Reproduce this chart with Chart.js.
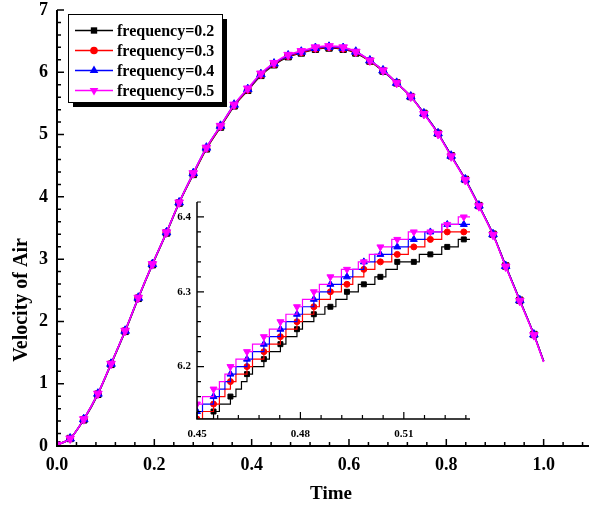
<!DOCTYPE html>
<html>
<head>
<meta charset="utf-8">
<script src="https://cdn.jsdelivr.net/npm/chart.js@4.4.1/dist/chart.umd.min.js"></script>
<style>
  html, body { margin: 0; padding: 0; background: #fff; overflow: hidden; }
  #wrap { position: relative; width: 589px; height: 512px; overflow: hidden; background: #fff; }
  #main { position: absolute; left: 0; top: 0; }
  #inset { position: absolute; left: 160px; top: 195px; }
</style>
</head>
<body>
<div id="wrap">
  <canvas id="main" width="600" height="512"></canvas>
  <canvas id="inset" width="320" height="250"></canvas>
</div>
<script>
const seriesNames = ['frequency=0.2', 'frequency=0.3', 'frequency=0.4', 'frequency=0.5'];
const seriesColors = ['#000000', '#ff0000', '#0000ff', '#ff00ff'];
const seriesMarkers = ['rect', 'circle', 'triangle', 'triangle'];
const seriesRotation = [0, 0, 0, 180];

const xTitle = 'Time';
const yTitle = 'Velocity of Air';

// main plot: time vs velocity
const mainTime = [0, 0.027, 0.055, 0.084, 0.111, 0.140, 0.167, 0.196, 0.225, 0.251, 0.280, 0.307,
  0.336, 0.364, 0.392, 0.419, 0.446, 0.475, 0.502, 0.531, 0.559, 0.588, 0.614, 0.643, 0.670,
  0.698, 0.727, 0.754, 0.783, 0.810, 0.839, 0.867, 0.896, 0.922, 0.951, 0.980, 1.0];
const mainF02 = [0.02, 0.12, 0.42, 0.83, 1.31, 1.84, 2.37, 2.91, 3.42, 3.90, 4.36, 4.77, 5.12, 5.46,
  5.71, 5.95, 6.12, 6.25, 6.31, 6.37, 6.39, 6.37, 6.31, 6.18, 6.02, 5.83, 5.61, 5.34, 5.02, 4.66,
  4.28, 3.86, 3.40, 2.89, 2.34, 1.79, 1.36];
const mainF03 = [0.02, 0.12, 0.43, 0.84, 1.32, 1.85, 2.38, 2.92, 3.43, 3.91, 4.37, 4.78, 5.13, 5.47,
  5.72, 5.96, 6.13, 6.26, 6.32, 6.38, 6.40, 6.38, 6.32, 6.18, 6.03, 5.83, 5.61, 5.34, 5.02, 4.66,
  4.28, 3.86, 3.40, 2.89, 2.34, 1.79, 1.36];
const mainF04 = [0.02, 0.12, 0.43, 0.84, 1.32, 1.85, 2.38, 2.92, 3.43, 3.91, 4.38, 4.79, 5.14, 5.48,
  5.73, 5.97, 6.14, 6.27, 6.33, 6.39, 6.41, 6.39, 6.33, 6.19, 6.03, 5.83, 5.61, 5.34, 5.02, 4.66,
  4.28, 3.86, 3.40, 2.89, 2.34, 1.79, 1.36];
const mainF05 = [0.02, 0.12, 0.43, 0.84, 1.32, 1.85, 2.38, 2.92, 3.43, 3.91, 4.38, 4.79, 5.14, 5.48,
  5.74, 5.98, 6.15, 6.28, 6.34, 6.40, 6.42, 6.40, 6.33, 6.19, 6.03, 5.83, 5.61, 5.33, 5.01, 4.65,
  4.27, 3.85, 3.39, 2.88, 2.33, 1.78, 1.35];

// inset: zoom on 0.45..0.53, stepped data
const insetTime = [0.4500, 0.4516, 0.4532, 0.4548, 0.4565, 0.4581, 0.4597, 0.4613, 0.4629, 0.4645,
  0.4661, 0.4677, 0.4694, 0.4710, 0.4726, 0.4742, 0.4758, 0.4774, 0.4790, 0.4806, 0.4823, 0.4839,
  0.4855, 0.4871, 0.4887, 0.4903, 0.4919, 0.4935, 0.4952, 0.4968, 0.4984, 0.5000, 0.5016, 0.5032,
  0.5048, 0.5065, 0.5081, 0.5097, 0.5113, 0.5129, 0.5145, 0.5161, 0.5177, 0.5194, 0.5210, 0.5226,
  0.5242, 0.5258, 0.5274, 0.5292];
const insetF02 = [6.12, 6.13, 6.13, 6.14, 6.15, 6.15, 6.16, 6.17, 6.18, 6.19, 6.20, 6.20, 6.21, 6.22,
  6.22, 6.23, 6.24, 6.24, 6.25, 6.26, 6.26, 6.27, 6.27, 6.28, 6.28, 6.29, 6.29, 6.30, 6.30, 6.31,
  6.31, 6.31, 6.32, 6.32, 6.33, 6.33, 6.34, 6.34, 6.34, 6.34, 6.35, 6.35, 6.35, 6.35, 6.36, 6.36,
  6.36, 6.37, 6.37, 6.37];
const insetF03 = [6.13, 6.14, 6.14, 6.15, 6.16, 6.17, 6.18, 6.19, 6.19, 6.20, 6.21, 6.21, 6.22, 6.23,
  6.23, 6.24, 6.25, 6.25, 6.26, 6.27, 6.27, 6.28, 6.29, 6.29, 6.30, 6.30, 6.31, 6.31, 6.32, 6.32,
  6.33, 6.33, 6.34, 6.34, 6.34, 6.35, 6.35, 6.35, 6.36, 6.36, 6.36, 6.37, 6.37, 6.37, 6.38, 6.38,
  6.38, 6.38, 6.38, 6.38];
const insetF04 = [6.14, 6.15, 6.15, 6.16, 6.17, 6.18, 6.19, 6.20, 6.20, 6.21, 6.22, 6.22, 6.23, 6.24,
  6.24, 6.25, 6.26, 6.26, 6.27, 6.28, 6.28, 6.29, 6.30, 6.30, 6.31, 6.31, 6.32, 6.32, 6.33, 6.33,
  6.34, 6.34, 6.35, 6.35, 6.35, 6.36, 6.36, 6.36, 6.37, 6.37, 6.37, 6.38, 6.38, 6.38, 6.39, 6.39,
  6.39, 6.39, 6.39, 6.39];
const insetF05 = [6.15, 6.16, 6.16, 6.17, 6.18, 6.19, 6.20, 6.21, 6.21, 6.22, 6.23, 6.23, 6.24, 6.25,
  6.25, 6.26, 6.27, 6.27, 6.28, 6.29, 6.29, 6.30, 6.31, 6.31, 6.32, 6.32, 6.33, 6.33, 6.33, 6.34,
  6.34, 6.35, 6.35, 6.36, 6.36, 6.37, 6.37, 6.37, 6.38, 6.38, 6.38, 6.38, 6.38, 6.38, 6.39, 6.39,
  6.39, 6.40, 6.40, 6.40];

const mainXTicks = [0, 0.2, 0.4, 0.6, 0.8, 1.0];
const mainYTicks = [0, 1, 2, 3, 4, 5, 6, 7];
const insetXTicks = [0.45, 0.48, 0.51];
const insetYTicks = [6.2, 6.3, 6.4];

const FONT = '"Liberation Serif", "Times New Roman", serif';

function markerPath(ctx, style, x, y, r, rotDeg) {
  ctx.beginPath();
  if (style === 'rect') {
    const s = Math.SQRT1_2 * r;
    ctx.rect(x - s, y - s, 2 * s, 2 * s);
  } else if (style === 'circle') {
    ctx.arc(x, y, r, 0, Math.PI * 2);
  } else {
    let rad = rotDeg * Math.PI / 180;
    ctx.moveTo(x + Math.sin(rad) * r, y - Math.cos(rad) * r);
    rad += 2 * Math.PI / 3;
    ctx.lineTo(x + Math.sin(rad) * r, y - Math.cos(rad) * r);
    rad += 2 * Math.PI / 3;
    ctx.lineTo(x + Math.sin(rad) * r, y - Math.cos(rad) * r);
    ctx.closePath();
  }
}

// tick marks pointing into the plot, major + minor
function innerTicks(cfg) {
  return {
    id: 'innerTicks',
    afterDraw(chart) {
      const { ctx, chartArea: a, scales: { x, y } } = chart;
      ctx.save();
      ctx.strokeStyle = '#000';
      ctx.lineWidth = cfg.tickWidth;
      ctx.beginPath();
      const isMajor = (v, list, step) => list.some(t => Math.abs(t - v) < step / 10);
      for (let n = Math.ceil(x.min / cfg.xMinor - 1e-6); n * cfg.xMinor <= x.max + 1e-9; n++) {
        const v = n * cfg.xMinor;
        const px = x.getPixelForValue(v);
        const len = isMajor(v, cfg.xMajor, cfg.xMinor) ? cfg.majorLen : cfg.minorLen;
        ctx.moveTo(px, a.bottom);
        ctx.lineTo(px, a.bottom - len);
      }
      for (let n = Math.ceil(y.min / cfg.yMinor - 1e-6); n * cfg.yMinor <= y.max + 1e-9; n++) {
        const v = n * cfg.yMinor;
        const py = y.getPixelForValue(v);
        const len = isMajor(v, cfg.yMajor, cfg.yMinor) ? cfg.majorLen : cfg.minorLen;
        ctx.moveTo(a.left, py);
        ctx.lineTo(a.left + len, py);
      }
      ctx.stroke();
      // axis lines
      ctx.lineWidth = cfg.axisWidth;
      ctx.beginPath();
      ctx.moveTo(a.left, a.top);
      ctx.lineTo(a.left, a.bottom);
      ctx.lineTo(a.right, a.bottom);
      ctx.stroke();
      ctx.restore();
    }
  };
}

const mainDecor = {
  id: 'mainDecor',
  afterDraw(chart) {
    const ctx = chart.ctx;
    ctx.save();
    // axis titles
    ctx.fillStyle = '#000';
    ctx.textAlign = 'center';
    ctx.textBaseline = 'middle';
    ctx.font = 'bold 19px ' + FONT;
    ctx.fillText(xTitle, 331, 494);
    ctx.save();
    ctx.translate(22, 300);
    ctx.rotate(-Math.PI / 2);
    ctx.font = 'bold 20px ' + FONT;
    ctx.fillText(yTitle, 0, 0);
    ctx.restore();

    // legend box with drop shadow
    const bx = 68, by = 14, bw = 154, bh = 88, sh = 5;
    ctx.fillStyle = '#000';
    ctx.fillRect(bx + sh, by + sh, bw, bh);
    ctx.fillStyle = '#fff';
    ctx.fillRect(bx, by, bw, bh);
    ctx.strokeStyle = '#000';
    ctx.lineWidth = 1;
    ctx.strokeRect(bx + 0.5, by + 0.5, bw, bh);
    const radii = [4.5, 3.8, 5, 5];
    seriesNames.forEach((name, i) => {
      const yy = 30.5 + 20 * i;
      ctx.strokeStyle = seriesColors[i];
      ctx.lineWidth = 1.5;
      ctx.beginPath();
      ctx.moveTo(75, yy);
      ctx.lineTo(113, yy);
      ctx.stroke();
      ctx.fillStyle = seriesColors[i];
      markerPath(ctx, seriesMarkers[i], 94, yy, radii[i], seriesRotation[i]);
      ctx.fill();
      ctx.fillStyle = '#000';
      ctx.textAlign = 'left';
      ctx.font = 'bold 16px ' + FONT;
      ctx.fillText(name, 117, yy + 1);
    });
    ctx.restore();
  }
};

const mainRadius = [4.5, 3.5, 5, 5];
const mainData = [mainF02, mainF03, mainF04, mainF05];
const mainChart = new Chart(document.getElementById('main'), {
  type: 'line',
  data: {
    datasets: mainData.map((vals, i) => ({
      label: seriesNames[i],
      data: mainTime.map((t, k) => ({ x: t, y: vals[k] })),
      borderColor: seriesColors[i],
      backgroundColor: seriesColors[i],
      pointBackgroundColor: seriesColors[i],
      pointBorderColor: seriesColors[i],
      pointBorderWidth: 1,
      borderWidth: 1.6,
      pointStyle: seriesMarkers[i],
      pointRotation: seriesRotation[i],
      pointRadius: (c) => c.dataIndex === mainTime.length - 1 ? 0 : mainRadius[i],
      cubicInterpolationMode: 'monotone',
      order: 3 - i,
      clip: 0
    }))
  },
  options: {
    responsive: false,
    animation: false,
    events: [],
    layout: { padding: { top: 10, right: 7.7, left: 0, bottom: 0 } },
    plugins: { legend: { display: false }, tooltip: { enabled: false } },
    scales: {
      x: {
        type: 'linear', min: 0, max: 1.1,
        afterBuildTicks: (s) => { s.ticks = mainXTicks.map(v => ({ value: v })); },
        afterFit: (s) => { s.height = 66; s.paddingLeft = 0; s.paddingRight = 0; },
        grid: { display: false, drawTicks: false },
        border: { display: false },
        ticks: {
          color: '#000', padding: 9, maxRotation: 0, autoSkip: false,
          font: { family: FONT, size: 18, weight: 'bold' },
          callback: (v) => Number(v).toFixed(1)
        }
      },
      y: {
        type: 'linear', min: 0, max: 7,
        afterBuildTicks: (s) => { s.ticks = mainYTicks.map(v => ({ value: v })); },
        afterFit: (s) => { s.width = 57; s.paddingTop = 0; s.paddingBottom = 0; },
        grid: { display: false, drawTicks: false },
        border: { display: false },
        ticks: {
          color: '#000', padding: 9, autoSkip: false,
          font: { family: FONT, size: 18, weight: 'bold' },
          callback: (v) => String(v)
        }
      }
    }
  },
  plugins: [innerTicks({ xMinor: 0.04, yMinor: 0.2, xMajor: mainXTicks, yMajor: mainYTicks,
    majorLen: 7, minorLen: 4, tickWidth: 1.5, axisWidth: 2 }), mainDecor]
});

const insetRadius = [3.5, 3, 4, 4];
const insetData = [insetF02, insetF03, insetF04, insetF05];
const insetChart = new Chart(document.getElementById('inset'), {
  type: 'line',
  data: {
    datasets: insetData.map((vals, i) => ({
      label: seriesNames[i],
      data: insetTime.map((t, k) => ({ x: t, y: vals[k] })),
      borderColor: seriesColors[i],
      backgroundColor: seriesColors[i],
      pointBackgroundColor: seriesColors[i],
      pointBorderColor: seriesColors[i],
      pointBorderWidth: 1,
      borderWidth: 1.2,
      stepped: 'before',
      pointStyle: seriesMarkers[i],
      pointRotation: seriesRotation[i],
      // a symbol on every third sample
      pointRadius: (c) => (c.dataIndex % 3 === 0 && c.dataIndex < insetTime.length - 1) ? insetRadius[i] : 0,
      order: 3 - i,
      clip: 0
    }))
  },
  options: {
    responsive: false,
    animation: false,
    events: [],
    layout: { padding: { top: 7, right: 10, left: 0, bottom: 0 } },
    plugins: { legend: { display: false }, tooltip: { enabled: false } },
    scales: {
      x: {
        type: 'linear', min: 0.45, max: 0.5292,
        afterBuildTicks: (s) => { s.ticks = insetXTicks.map(v => ({ value: v })); },
        afterFit: (s) => { s.height = 26; s.paddingLeft = 0; s.paddingRight = 0; },
        grid: { display: false, drawTicks: false },
        border: { display: false },
        ticks: {
          color: '#000', padding: 9, maxRotation: 0, autoSkip: false,
          font: { family: FONT, size: 11, weight: 'bold' },
          callback: (v) => Number(v).toFixed(2)
        }
      },
      y: {
        type: 'linear', min: 6.13, max: 6.42,
        afterBuildTicks: (s) => { s.ticks = insetYTicks.map(v => ({ value: v })); },
        afterFit: (s) => { s.width = 37; s.paddingTop = 0; s.paddingBottom = 0; },
        grid: { display: false, drawTicks: false },
        border: { display: false },
        ticks: {
          color: '#000', padding: 6, autoSkip: false,
          font: { family: FONT, size: 11, weight: 'bold' },
          callback: (v) => Number(v).toFixed(1)
        }
      }
    }
  },
  plugins: [innerTicks({ xMinor: 0.006, yMinor: 0.02, xMajor: insetXTicks, yMajor: insetYTicks,
    majorLen: 7, minorLen: 4, tickWidth: 1.2, axisWidth: 1.5 })]
});
</script>
</body>
</html>
